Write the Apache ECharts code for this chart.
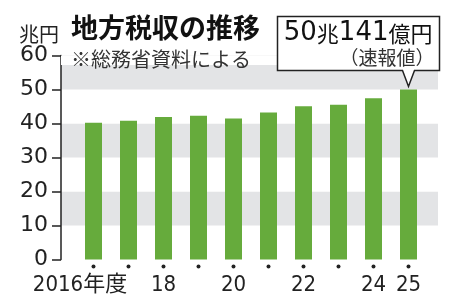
<!DOCTYPE html>
<html>
<head>
<meta charset="utf-8">
<script src="https://cdn.jsdelivr.net/npm/echarts@6/dist/echarts.min.js"></script>
<style>
  html, body { margin: 0; padding: 0; background: #fff; }
  #chart { width: 450px; height: 307px; }
</style>
</head>
<body>
<div id="chart"></div>
<script>
var years = ['2016', '2017', '2018', '2019', '2020', '2021', '2022', '2023', '2024', '2025'];
var yearLabels = ['2016年度', '', '18', '', '20', '', '22', '', '24', '25'];
var revenue = [40.2, 40.8, 41.9, 42.3, 41.5, 43.2, 45.1, 45.5, 47.4, 50.0141];
var yTicks = [0, 60, 10]; // min, max, interval

var cjk = '"Noto Sans CJK JP", sans-serif';
var numFont = '"DejaVu Sans", sans-serif';
var narrow = '"DejaVu Sans Condensed", "Noto Sans CJK JP", sans-serif';

var myChart = echarts.init(document.getElementById('chart'));

var option = {
    animation: false,
    title: [{
        text: '兆円',
        left: 14,
        top: 18,
        textStyle: { fontFamily: cjk, fontSize: 20, fontWeight: 'normal', color: '#222', lineHeight: 22 }
    }, {
        text: '地方税収の推移',
        subtext: '※総務省資料による',
        left: 66,
        top: 8,
        itemGap: 5,
        textStyle: { fontFamily: cjk, fontSize: 27, fontWeight: 'bold', color: '#111', lineHeight: 30 },
        subtextStyle: { fontFamily: cjk, fontSize: 20, color: '#333', lineHeight: 22 }
    }],
    grid: [
        { left: 61, right: 12, top: 55.5, bottom: 47.5 },
        { left: 76, right: 24, top: 55.5, bottom: 47.5 }
    ],
    xAxis: [{
        gridIndex: 0,
        type: 'value',
        show: false
    }, {
        gridIndex: 1,
        type: 'category',
        data: years,
        axisLine: { show: false },
        axisTick: { show: false },
        axisLabel: {
            interval: 0,
            margin: 14,
            color: '#222',
            fontFamily: narrow,
            fontSize: 22,
            lineHeight: 24,
            formatter: function (v, i) {
                var t = yearLabels[i];
                return i === 0 ? '{first|' + t + '}' : t;
            },
            rich: {
                first: { fontFamily: narrow, fontSize: 22, lineHeight: 24, color: '#222', padding: [0, 27, 0, 0] }
            }
        }
    }],
    yAxis: [{
        gridIndex: 0,
        type: 'value',
        min: yTicks[0],
        max: yTicks[1],
        interval: yTicks[2],
        axisLine: { show: true, lineStyle: { color: '#222', width: 1.5 } },
        axisTick: { show: true, length: 9, lineStyle: { color: '#222', width: 1.5 } },
        axisLabel: { margin: 13, fontFamily: numFont, fontSize: 22, color: '#222' },
        splitLine: { show: false },
        splitArea: { show: true, areaStyle: { color: ['#ffffff', '#e3e4e6'] } }
    }, {
        gridIndex: 1,
        type: 'value',
        min: yTicks[0],
        max: yTicks[1],
        interval: yTicks[2],
        show: false,
        splitLine: { show: false }
    }],
    series: [{
        type: 'bar',
        xAxisIndex: 1,
        yAxisIndex: 1,
        barWidth: 17,
        itemStyle: { color: '#66ab3c' },
        z: 3,
        data: revenue
    }]
};

myChart.setOption(option);

var graphics = [];

// white strip at the top of the chart area
var top60 = myChart.convertToPixel({ yAxisIndex: 0 }, 60);
graphics.push({
    type: 'rect',
    z: 1,
    shape: { x: 61, y: top60, width: 378, height: 9.5 },
    style: { fill: '#fff' }
});

// small dot under every bar
var base = myChart.convertToPixel({ yAxisIndex: 1 }, 0);
years.forEach(function (y, i) {
    graphics.push({
        type: 'circle',
        z: 100,
        shape: { cx: myChart.convertToPixel({ xAxisIndex: 1 }, i), cy: base + 7, r: 2 },
        style: { fill: '#222' }
    });
});

// callout for the latest value
var last = revenue.length - 1;
var tip = myChart.convertToPixel({ xAxisIndex: 1, yAxisIndex: 1 }, [last, revenue[last]]);
var tx = tip[0], ty = tip[1] - 3;
var bx0 = tx - 131, bx1 = tx + 31, by0 = ty - 70, by1 = ty - 16;

graphics.push({
    type: 'polygon',
    z: 10,
    shape: {
        points: [[bx0, by0], [bx1, by0], [bx1, by1], [tx + 6, by1], [tx, ty], [tx - 6, by1], [bx0, by1]]
    },
    style: { fill: '#fff', stroke: '#222', lineWidth: 1.5 }
}, {
    type: 'text',
    z: 11,
    x: bx1 - 7,
    y: by0 + 17,
    style: {
        text: '{n|50}{k|兆}{n|141}{k|億円}',
        align: 'right',
        verticalAlign: 'middle',
        rich: {
            n: { fontFamily: numFont, fontSize: 26, fill: '#111' },
            k: { fontFamily: cjk, fontSize: 22, fill: '#111' }
        }
    }
}, {
    type: 'text',
    z: 11,
    x: bx1 - 5,
    y: by0 + 41,
    style: {
        text: '（速報値）',
        align: 'right',
        verticalAlign: 'middle',
        fontFamily: cjk,
        fontSize: 19,
        fill: '#333'
    }
});

myChart.setOption({ graphic: graphics });
</script>
</body>
</html>
